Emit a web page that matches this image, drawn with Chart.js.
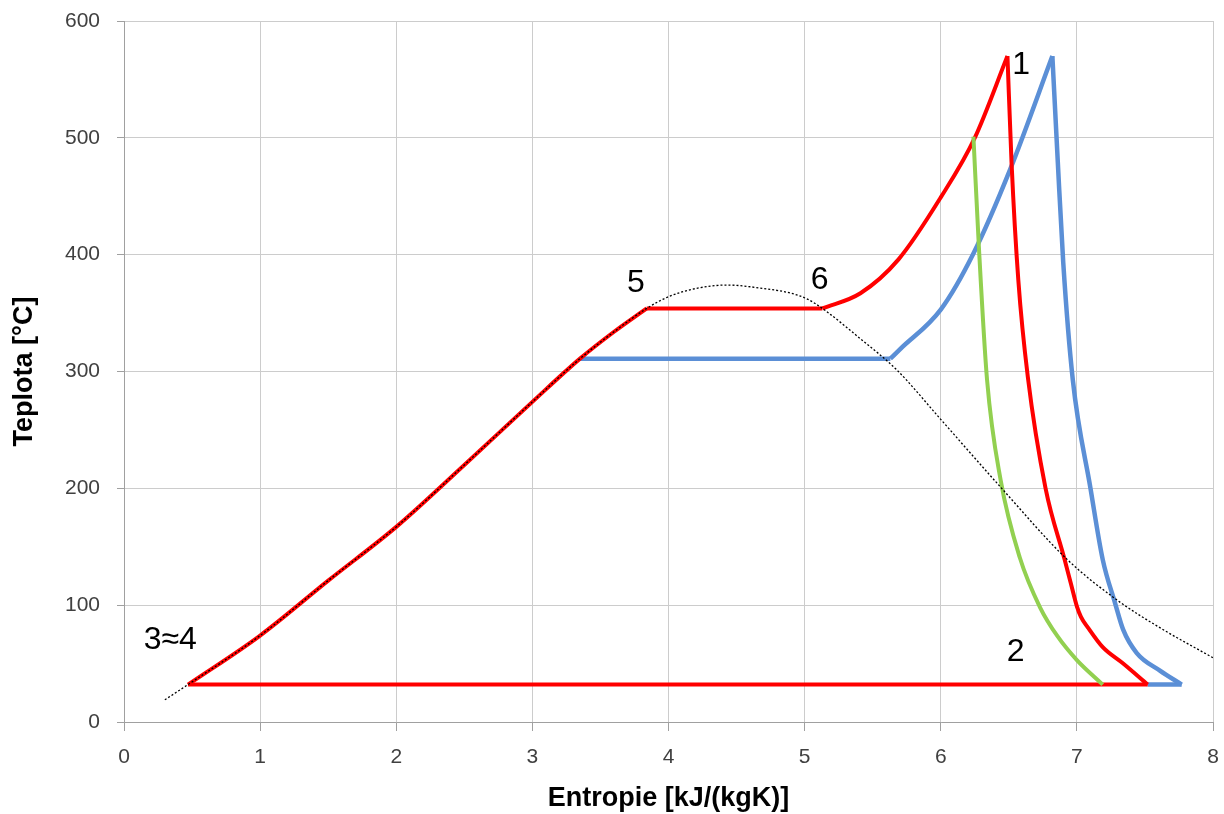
<!DOCTYPE html>
<html>
<head>
<meta charset="utf-8">
<script src="https://cdn.jsdelivr.net/npm/chart.js@4/dist/chart.umd.min.js"></script>
<style>
  html, body { margin: 0; padding: 0; background: #fff; }
  #wrap { width: 1224px; height: 814px; position: relative; }
</style>
</head>
<body>
<div id="wrap"><canvas id="ts"></canvas></div>
<script>
// saturation dome (dotted)
const domeS = [0.30, 0.47, 1.0, 1.5, 2.0, 2.5, 3.0, 3.35, 3.6, 3.84, 4.0, 4.2, 4.43, 4.7, 4.9, 5.02, 5.13, 5.41, 5.68, 6.0, 6.44, 6.93, 7.30, 7.62, 8.0];
const domeT = [19, 32, 74, 121, 167, 220, 274, 311, 334, 354, 364, 371, 374, 371, 367, 362, 354, 328, 301, 259, 201, 139, 104, 80, 55];

// red cycle
const redLiqS = [0.47, 1.0, 1.5, 2.0, 2.5, 3.0, 3.35, 3.6, 3.84];
const redLiqT = [32, 74, 121, 167, 220, 274, 311, 334, 354];
const redEvapS = [3.84, 5.13];
const redEvapT = [354, 354];
const redSupS = [5.13, 5.41, 5.69, 6.0, 6.25, 6.49];
const redSupT = [354, 367, 396, 449, 500, 570];
const redExpS = [6.49, 6.52, 6.57, 6.64, 6.77, 6.91, 6.955, 7.00, 7.03, 7.08, 7.19, 7.34, 7.52];
const redExpT = [570, 479, 378, 295, 200, 139, 119, 99, 90, 81, 64, 50, 32];
const redCondS = [0.47, 7.52];
const redCondT = [32, 32];

// blue cycle
const blueEvapS = [3.35, 5.63];
const blueEvapT = [311, 311];
const blueSupS = [5.63, 5.70, 6.0, 6.24, 6.51, 6.82];
const blueSupT = [311, 319, 353, 401, 473, 570];
const blueExpS = [6.82, 6.86, 6.90, 6.97, 7.10, 7.19, 7.28, 7.34, 7.44, 7.61, 7.77];
const blueExpT = [570, 479, 393, 293, 200, 139, 102, 79, 59, 44, 32];
const blueCondS = [7.52, 7.77];
const blueCondT = [32, 32];

// green expansion
const greenS = [6.24, 6.28, 6.34, 6.44, 6.58, 6.73, 6.86, 7.00, 7.19];
const greenT = [501, 407, 293, 207, 141, 98, 73, 53, 32];

// point labels
const labelText = ['1', '2', '3\u22484', '5', '6'];
const labelS = [6.59, 6.55, 0.34, 3.76, 5.11];
const labelT = [562, 60, 70, 376, 378];

const xTicks = [0, 1, 2, 3, 4, 5, 6, 7, 8];
const yTicks = [0, 100, 200, 300, 400, 500, 600];

function pts(s, t) {
    return s.map((v, i) => ({ x: v, y: t[i] }));
}

const RED = '#ff0000';
const BLUE = '#5b8fd6';
const GREEN = '#92d050';

function line(s, t, color, width) {
    return {
        data: pts(s, t),
        showLine: true,
        borderColor: color,
        backgroundColor: color,
        borderWidth: width,
        pointRadius: 0,
        cubicInterpolationMode: 'monotone',
        fill: false
    };
}

const dome = line(domeS, domeT, '#000', 1.3);
dome.borderDash = [2, 2];

const datasets = [
    dome,
    line(greenS, greenT, GREEN, 4),
    line(redLiqS, redLiqT, RED, 4),
    line(redEvapS, redEvapT, RED, 4),
    line(redSupS, redSupT, RED, 4),
    line(redExpS, redExpT, RED, 4),
    line(redCondS, redCondT, RED, 4),
    line(blueEvapS, blueEvapT, BLUE, 4.5),
    line(blueSupS, blueSupT, BLUE, 4.5),
    line(blueExpS, blueExpT, BLUE, 4.5),
    line(blueCondS, blueCondT, BLUE, 4.5)
];

const pointLabels = {
    id: 'pointLabels',
    afterDatasetsDraw(chart) {
        const ctx = chart.ctx;
        const xs = chart.scales.x, ys = chart.scales.y;
        ctx.save();
        ctx.fillStyle = '#000';
        ctx.font = '32px "Liberation Sans", Arial, sans-serif';
        ctx.textAlign = 'center';
        ctx.textBaseline = 'middle';
        labelText.forEach((txt, i) => {
            ctx.fillText(txt, xs.getPixelForValue(labelS[i]), ys.getPixelForValue(labelT[i]));
        });
        ctx.restore();
    }
};

new Chart(document.getElementById('ts'), {
    type: 'scatter',
    data: { datasets: datasets },
    plugins: [pointLabels],
    options: {
        responsive: true,
        maintainAspectRatio: false,
        animation: false,
        layout: { padding: { top: 21, right: 11, left: 0, bottom: 0 } },
        plugins: {
            legend: { display: false },
            tooltip: { enabled: false }
        },
        scales: {
            x: {
                type: 'linear',
                min: 0,
                max: 8,
                afterFit: (scale) => {
                    scale.height = 92;
                    scale.paddingLeft = 0;
                    scale.paddingRight = 0;
                },
                afterBuildTicks: (scale) => { scale.ticks = xTicks.map(v => ({ value: v })); },
                grid: { color: '#cccccc', tickColor: '#a0a0a0', tickLength: 9 },
                border: { color: '#a0a0a0' },
                ticks: {
                    padding: 14,
                    color: '#404040',
                    font: { family: '"Liberation Sans", Arial, sans-serif', size: 21 }
                },
                title: {
                    display: true,
                    text: 'Entropie [kJ/(kgK)]',
                    color: '#000',
                    font: { family: '"Liberation Sans", Arial, sans-serif', size: 27, weight: 'bold', lineHeight: 1 },
                    padding: { top: 0, bottom: 2 }
                }
            },
            y: {
                type: 'linear',
                min: 0,
                max: 600,
                afterFit: (scale) => {
                    scale.width = 124;
                    scale.paddingTop = 0;
                    scale.paddingBottom = 0;
                },
                afterBuildTicks: (scale) => { scale.ticks = yTicks.map(v => ({ value: v })); },
                grid: { color: '#cccccc', tickColor: '#a0a0a0', tickLength: 7 },
                border: { color: '#a0a0a0' },
                ticks: {
                    padding: 17,
                    color: '#404040',
                    font: { family: '"Liberation Sans", Arial, sans-serif', size: 21 }
                },
                title: {
                    display: true,
                    text: 'Teplota [°C]',
                    color: '#000',
                    font: { family: '"Liberation Sans", Arial, sans-serif', size: 27, weight: 'bold', lineHeight: 1 },
                    padding: { top: 11, bottom: 0 }
                }
            }
        }
    }
});
</script>
</body>
</html>
